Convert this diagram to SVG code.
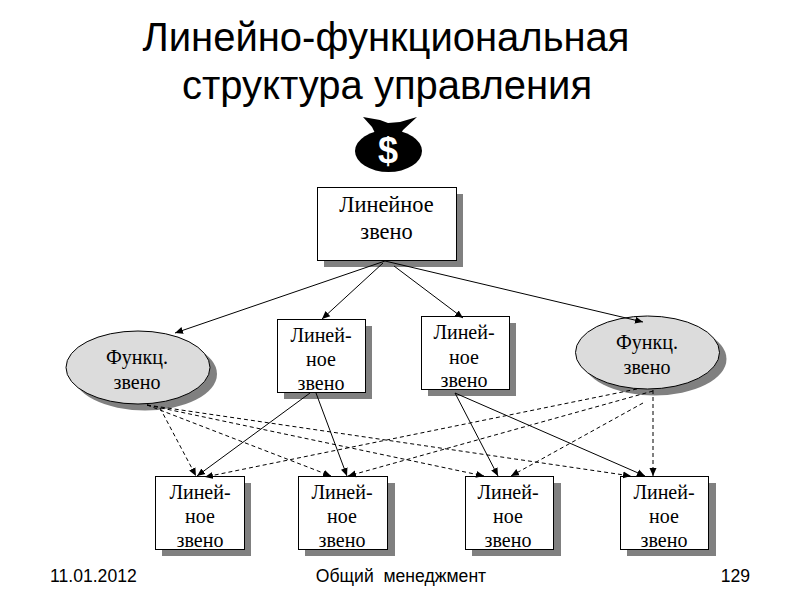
<svg xmlns="http://www.w3.org/2000/svg" width="800" height="600" viewBox="0 0 800 600">
<style>
.title{font-family:"Liberation Sans",Arial,sans-serif;font-size:40px;fill:#000;text-anchor:middle}
.foot{font-family:"Liberation Sans",Arial,sans-serif;font-size:17.600px;fill:#000}
.lab{font-family:"Liberation Serif","Times New Roman",serif;font-size:20px;fill:#000;text-anchor:middle}
.big{font-size:22.400px}
.box{fill:#fff;stroke:#000;stroke-width:1}
.shadow{fill:#808080}
.oval{fill:#dcdcdc;stroke:#000;stroke-width:1}
.solid{fill:none;stroke:#000;stroke-width:1;marker-end:url(#arrow)}
.dash{fill:none;stroke:#000;stroke-width:1;stroke-dasharray:4 3;marker-end:url(#arrow)}
</style>
<defs>
<marker id="arrow" markerUnits="userSpaceOnUse" markerWidth="9" markerHeight="8" refX="8" refY="4" orient="auto">
<path d="M0,0.500 L8,4 L0,7.500 Z" fill="#000"/>
</marker>
</defs>
<rect width="800" height="600" fill="#fff"/>
<g id="title">
<text class="title" x="386" y="51">Линейно-функциональная</text>
<text class="title" x="387" y="99">структура управления</text>
</g>
<g id="money-bag">
<ellipse cx="388.500" cy="151" rx="33.500" ry="21" fill="#000"/>
<path d="M363,117 L380,120 L388,123 L400,122 L417,117 L403,130 L399,137 L377,137 L372,127 Z" fill="#000"/>
<text x="388" y="163" font-family="Liberation Sans, Arial, sans-serif" font-size="36" font-weight="bold" fill="#fff" text-anchor="middle">$</text>
</g>
<g id="node-top">
<rect class="shadow" x="324" y="194" width="139" height="73"/>
<rect class="box" x="317.500" y="187.500" width="139" height="73"/>
<text class="lab big" x="386.500" y="212">Линейное</text>
<text class="lab big" x="386.500" y="239">звено</text>
</g>
<g id="node-func-left">
<ellipse class="shadow" cx="145" cy="374" rx="72" ry="36.500"/>
<ellipse class="oval" cx="138" cy="367.500" rx="72" ry="36.500"/>
<text class="lab" x="137" y="364">Функц.</text>
<text class="lab" x="137" y="389">звено</text>
</g>
<g id="node-line-a">
<rect class="shadow" x="284" y="326" width="88" height="73"/>
<rect class="box" x="277.500" y="319.500" width="88" height="73"/>
<text class="lab" x="321" y="342">Линей-</text>
<text class="lab" x="321" y="366">ное</text>
<text class="lab" x="321" y="390">звено</text>
</g>
<g id="node-line-b">
<rect class="shadow" x="428" y="323" width="88" height="73"/>
<rect class="box" x="421.500" y="316.500" width="88" height="73"/>
<text class="lab" x="464" y="339">Линей-</text>
<text class="lab" x="464" y="364">ное</text>
<text class="lab" x="464" y="387">звено</text>
</g>
<g id="node-func-right">
<ellipse class="shadow" cx="654.500" cy="359" rx="72" ry="36.500"/>
<ellipse class="oval" cx="647.500" cy="352.500" rx="72" ry="36.500"/>
<text class="lab" x="647" y="349">Функц.</text>
<text class="lab" x="647" y="374">звено</text>
</g>
<g id="node-bottom-1">
<rect class="shadow" x="162" y="483" width="89" height="73"/>
<rect class="box" x="155.500" y="476.500" width="89" height="73"/>
<text class="lab" x="200" y="499">Линей-</text>
<text class="lab" x="200" y="523">ное</text>
<text class="lab" x="200" y="547">звено</text>
</g>
<g id="node-bottom-2">
<rect class="shadow" x="305" y="483" width="90" height="73"/>
<rect class="box" x="298.500" y="476.500" width="89" height="73"/>
<text class="lab" x="342" y="499">Линей-</text>
<text class="lab" x="342" y="523">ное</text>
<text class="lab" x="342" y="547">звено</text>
</g>
<g id="node-bottom-3">
<rect class="shadow" x="472" y="483" width="89" height="73"/>
<rect class="box" x="465.500" y="476.500" width="88" height="73"/>
<text class="lab" x="508" y="499">Линей-</text>
<text class="lab" x="508" y="523">ное</text>
<text class="lab" x="508" y="547">звено</text>
</g>
<g id="node-bottom-4">
<rect class="shadow" x="627" y="483" width="89" height="73"/>
<rect class="box" x="620.500" y="476.500" width="88" height="73"/>
<text class="lab" x="664" y="499">Линей-</text>
<text class="lab" x="664" y="523">ное</text>
<text class="lab" x="664" y="547">звено</text>
</g>
<g id="connectors">
<line class="solid" x1="385" y1="261" x2="175" y2="333"/>
<line class="solid" x1="383" y1="263" x2="322" y2="319"/>
<line class="solid" x1="394" y1="266" x2="463" y2="318"/>
<line class="solid" x1="385" y1="261" x2="643" y2="322"/>
<line class="solid" x1="310" y1="393" x2="197" y2="476"/>
<line class="solid" x1="316" y1="393" x2="347" y2="476"/>
<line class="solid" x1="455" y1="393" x2="498" y2="476"/>
<line class="solid" x1="455" y1="393" x2="645" y2="476"/>
<line class="dash" x1="160" y1="408" x2="196" y2="476"/>
<line class="dash" x1="147" y1="405" x2="331" y2="476"/>
<line class="dash" x1="147" y1="405" x2="484" y2="476"/>
<line class="dash" x1="147" y1="405" x2="631" y2="476"/>
<line class="dash" x1="637" y1="389" x2="205" y2="477"/>
<line class="dash" x1="653" y1="391" x2="348" y2="476"/>
<line class="dash" x1="643" y1="403" x2="511" y2="476"/>
<line class="dash" x1="653" y1="390" x2="653" y2="476"/>
</g>
<g id="footer">
<text class="foot" x="50" y="582">11.01.2012</text>
<text class="foot" x="401" y="582" text-anchor="middle" xml:space="preserve">Общий  менеджмент</text>
<text class="foot" x="750" y="582" text-anchor="end">129</text>
</g>
</svg>
